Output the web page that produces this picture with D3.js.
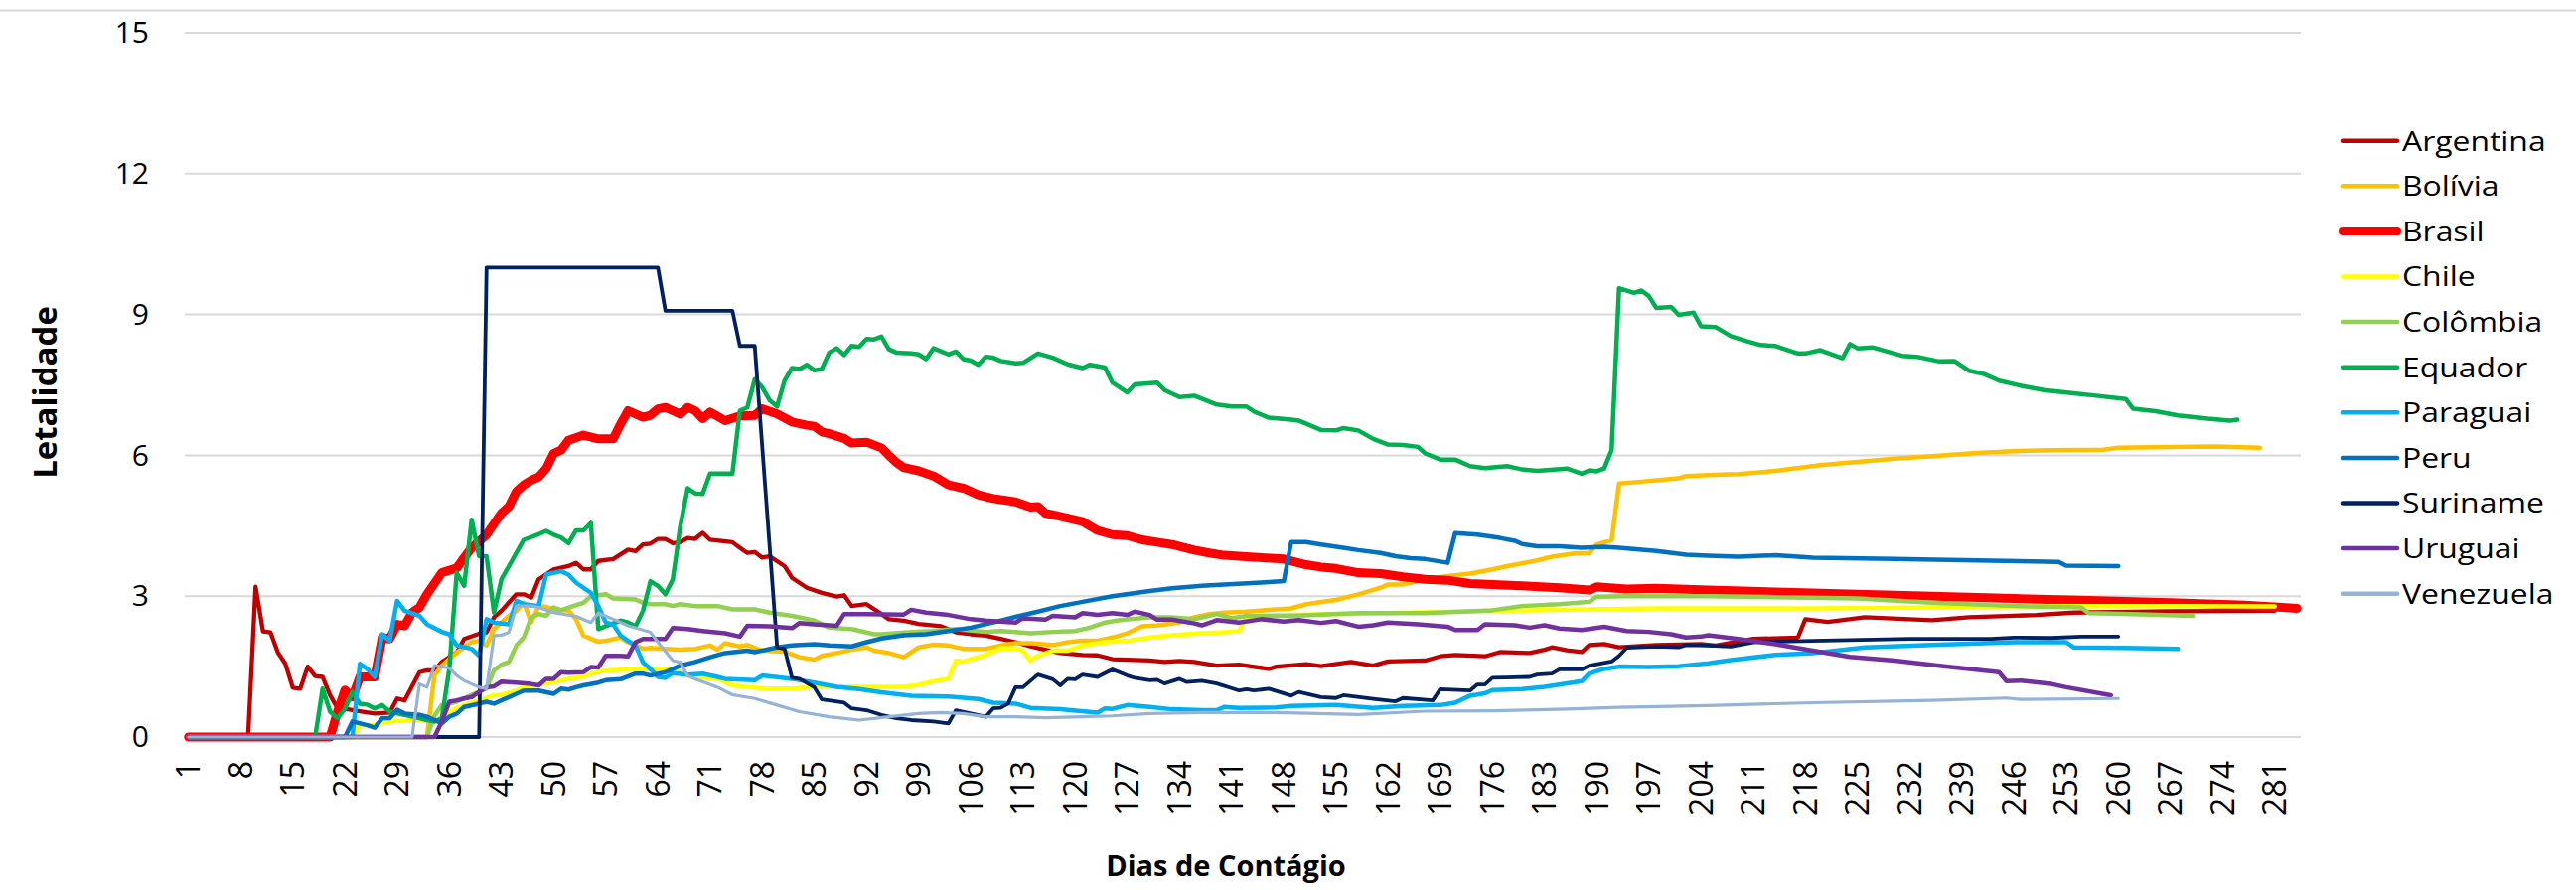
<!DOCTYPE html>
<html>
<head>
<meta charset="utf-8">
<script src="https://cdn.jsdelivr.net/npm/d3@7"></script>
<style>
  html, body { margin: 0; padding: 0; background: #fff; }
  svg { display: block; }
  text { font-family: "Open Sans", "Liberation Sans", sans-serif; fill: #000; }
</style>
</head>
<body>
<svg id="chart" width="2593" height="896"></svg>
<script>
// ---------------- DATA ----------------
const days = d3.range(1, 285); // categories: Dias de Contágio 1..284
const xTickLabels = [1,8,15,22,29,36,43,50,57,64,71,78,85,92,99,106,113,120,127,134,141,148,155,162,169,176,183,190,197,204,211,218,225,232,239,246,253,260,267,274,281];
const yTickLabels = [0,3,6,9,12,15];
const countries = ["Argentina","Bolívia","Brasil","Chile","Colômbia","Equador","Paraguai","Peru","Suriname","Uruguai","Venezuela"];

// [dia, letalidade]
const argentina = [[1,0],[9,0],[10,3.2],[11,2.25],[12,2.23],[13,1.8],[14,1.56],[15,1.05],[16,1.03],[17,1.5],[18,1.3],[19,1.28],[20,0.89],[21,0.61],[22,0.6],[24,0.55],[26,0.5],[28,0.52],[29,0.82],[30,0.78],[32,1.38],[33,1.42],[34,1.42],[35,1.6],[37,1.8],[38,2.09],[40,2.2],[41,2.23],[42,2.55],[43,2.69],[45,3.04],[46,3.04],[47,2.97],[48,3.36],[50,3.57],[52,3.64],[53,3.71],[54,3.57],[55,3.57],[56,3.75],[58,3.79],[60,3.99],[61,3.96],[62,4.1],[63,4.12],[64,4.22],[65,4.22],[66,4.13],[67,4.15],[68,4.24],[69,4.22],[70,4.35],[71,4.2],[74,4.15],[75,4.03],[76,3.92],[77,3.94],[78,3.82],[79,3.85],[81,3.64],[82,3.39],[84,3.18],[86,3.07],[88,2.99],[89,3.02],[90,2.79],[92,2.83],[94,2.62],[95,2.51],[97,2.48],[99,2.41],[102,2.36],[104,2.23],[106,2.19],[108,2.16],[110,2.09],[112,2.02],[114,1.93],[116,1.86],[118,1.79],[121,1.75],[123,1.74],[125,1.66],[130,1.63],[132,1.6],[134,1.62],[136,1.6],[139,1.52],[142,1.54],[146,1.45],[147,1.5],[151,1.55],[153,1.51],[157,1.6],[160,1.52],[162,1.61],[167,1.63],[169,1.72],[171,1.75],[175,1.72],[177,1.81],[181,1.79],[183,1.86],[184,1.91],[186,1.85],[188,1.81],[189,1.96],[191,1.98],[193,1.91],[198,1.96],[204,1.98],[206,1.95],[211,2.09],[217,2.12],[218,2.51],[221,2.45],[226,2.55],[235,2.49],[240,2.55],[249,2.6],[254,2.65],[267,2.68],[281,2.69]];
const bolivia = [[1,0],[33,0],[34,1.31],[35,1.52],[37,1.8],[39,2.02],[40,2.05],[41,1.95],[42,2.3],[44,2.58],[45,2.69],[46,2.86],[47,2.44],[48,2.79],[49,2.77],[50,2.72],[52,2.69],[53,2.51],[54,2.16],[56,2.03],[57,2.05],[59,2.12],[60,2.02],[62,1.88],[63,1.9],[65,1.88],[67,1.86],[69,1.88],[71,1.95],[72,1.86],[73,2.0],[75,1.93],[76,1.96],[78,1.84],[81,1.82],[83,1.7],[85,1.65],[86,1.73],[88,1.79],[90,1.86],[92,1.91],[93,1.84],[95,1.79],[97,1.7],[99,1.91],[101,1.97],[103,1.95],[105,1.88],[108,1.88],[110,1.95],[112,2.0],[114,2.0],[117,1.96],[119,2.02],[121,2.05],[123,2.05],[125,2.12],[127,2.21],[129,2.36],[131,2.38],[134,2.44],[136,2.55],[138,2.62],[140,2.65],[143,2.67],[147,2.72],[149,2.74],[151,2.83],[155,2.92],[158,3.04],[161,3.18],[162,3.25],[164,3.25],[167,3.36],[170,3.43],[173,3.48],[176,3.57],[178,3.64],[182,3.76],[184,3.84],[187,3.91],[189,3.92],[190,4.1],[192,4.19],[193,5.4],[196,5.44],[198,5.47],[201,5.51],[202,5.56],[205,5.58],[209,5.6],[214,5.67],[220,5.79],[225,5.86],[230,5.93],[235,5.98],[241,6.05],[246,6.09],[251,6.11],[258,6.12],[260,6.16],[267,6.18],[273,6.19],[279,6.16]];
const brasil = [[1,0],[20,0],[21,0.54],[22,1.0],[23,0.85],[24,1.28],[26,1.28],[27,2.12],[28,2.09],[29,2.4],[30,2.37],[31,2.65],[32,2.76],[33,3.04],[35,3.5],[37,3.6],[38,3.82],[39,4.03],[41,4.31],[43,4.77],[44,4.91],[45,5.23],[46,5.37],[47,5.47],[48,5.54],[49,5.72],[50,6.04],[51,6.11],[52,6.32],[54,6.43],[56,6.35],[58,6.35],[59,6.67],[60,6.95],[62,6.81],[63,6.85],[64,6.99],[65,7.02],[66,6.95],[67,6.88],[68,7.02],[69,6.95],[70,6.78],[71,6.92],[73,6.74],[75,6.84],[77,6.85],[78,6.99],[80,6.88],[82,6.71],[84,6.64],[85,6.62],[86,6.5],[87,6.46],[89,6.36],[90,6.26],[92,6.28],[94,6.16],[95,6.0],[96,5.85],[97,5.74],[99,5.67],[101,5.56],[103,5.37],[105,5.3],[107,5.16],[109,5.08],[112,5.01],[114,4.9],[115,4.91],[116,4.77],[118,4.7],[121,4.59],[123,4.4],[125,4.31],[127,4.29],[129,4.2],[131,4.15],[133,4.1],[136,3.98],[138,3.92],[140,3.87],[144,3.83],[148,3.79],[151,3.67],[153,3.62],[155,3.59],[158,3.5],[161,3.48],[164,3.41],[167,3.36],[170,3.34],[173,3.27],[176,3.25],[180,3.22],[185,3.18],[189,3.13],[190,3.2],[194,3.15],[198,3.17],[205,3.13],[214,3.09],[225,3.04],[235,3.0],[246,2.95],[256,2.91],[267,2.86],[277,2.81],[284,2.74]];
const chile = [[1,0],[23,0],[24,0.25],[26,0.26],[28,0.33],[31,0.36],[33,0.36],[35,0.33],[36,0.54],[38,0.68],[40,0.78],[42,0.89],[43,0.9],[45,0.99],[46,1.06],[48,1.11],[50,1.17],[52,1.24],[54,1.28],[55,1.35],[57,1.42],[60,1.44],[63,1.45],[66,1.45],[68,1.3],[72,1.24],[74,1.1],[77,1.05],[79,1.03],[82,1.03],[85,1.07],[90,1.07],[94,1.07],[97,1.07],[99,1.11],[101,1.19],[103,1.24],[104,1.63],[105,1.61],[108,1.75],[110,1.89],[112,1.89],[113,1.84],[114,1.63],[115,1.73],[117,1.84],[119,1.84],[121,1.95],[124,2.02],[127,2.05],[130,2.12],[133,2.17],[137,2.21],[140,2.23],[142,2.26],[143,2.55],[145,2.58],[149,2.6],[158,2.63],[171,2.67],[180,2.7],[189,2.72],[198,2.74],[219,2.74],[235,2.76],[251,2.79],[267,2.79],[281,2.78]];
const colombia = [[1,0],[33,0],[34,0.45],[35,0.68],[37,0.75],[39,0.89],[41,1.03],[42,1.42],[43,1.54],[44,1.6],[45,1.95],[46,2.12],[47,2.55],[48,2.62],[49,2.58],[50,2.76],[51,2.7],[53,2.81],[54,2.86],[55,3.0],[57,3.04],[58,2.95],[61,2.93],[62,2.86],[63,2.83],[65,2.83],[66,2.79],[67,2.83],[69,2.79],[72,2.79],[74,2.72],[77,2.72],[79,2.65],[82,2.58],[85,2.48],[87,2.33],[90,2.3],[93,2.19],[94,2.19],[98,2.24],[101,2.26],[104,2.3],[108,2.24],[110,2.26],[114,2.21],[117,2.24],[120,2.26],[122,2.33],[124,2.44],[126,2.49],[130,2.55],[133,2.55],[136,2.51],[139,2.62],[141,2.53],[143,2.58],[149,2.58],[158,2.64],[167,2.64],[176,2.7],[180,2.79],[185,2.83],[189,2.88],[190,2.99],[194,3.0],[205,3.0],[214,2.98],[225,2.95],[235,2.86],[246,2.79],[255,2.76],[256,2.64],[262,2.62],[270,2.58]];
const equador = [[1,0],[18,0],[19,1.03],[20,0.54],[21,0.4],[22,0.6],[23,0.96],[24,0.71],[25,0.69],[26,0.61],[27,0.68],[28,0.54],[30,0.47],[32,0.4],[33,0.36],[34,0.33],[35,0.4],[36,1.45],[37,3.5],[38,3.22],[39,4.63],[40,3.85],[41,3.85],[42,2.65],[43,3.36],[45,3.92],[46,4.2],[48,4.32],[49,4.39],[50,4.31],[51,4.25],[52,4.13],[53,4.4],[54,4.4],[55,4.56],[56,2.3],[57,2.36],[59,2.48],[60,2.44],[61,2.36],[62,2.69],[63,3.32],[64,3.22],[65,3.04],[66,3.36],[67,4.49],[68,5.3],[69,5.19],[70,5.18],[71,5.61],[74,5.61],[75,6.95],[76,7.02],[77,7.62],[78,7.45],[79,7.17],[80,7.04],[81,7.59],[82,7.86],[83,7.84],[84,7.93],[85,7.81],[86,7.84],[87,8.19],[88,8.28],[89,8.14],[90,8.33],[91,8.31],[92,8.48],[93,8.47],[94,8.53],[95,8.26],[96,8.19],[98,8.17],[99,8.15],[100,8.05],[101,8.28],[103,8.15],[104,8.21],[105,8.05],[106,8.02],[107,7.93],[108,8.1],[109,8.08],[110,8.01],[112,7.96],[113,7.97],[115,8.17],[117,8.08],[119,7.94],[121,7.86],[122,7.93],[124,7.87],[125,7.55],[127,7.34],[128,7.51],[131,7.55],[132,7.39],[134,7.24],[136,7.27],[139,7.08],[141,7.04],[143,7.04],[144,6.93],[146,6.8],[149,6.76],[150,6.74],[153,6.54],[155,6.53],[156,6.58],[158,6.53],[160,6.35],[162,6.23],[164,6.22],[166,6.18],[167,6.04],[169,5.91],[171,5.91],[173,5.77],[175,5.73],[178,5.77],[180,5.7],[182,5.67],[186,5.72],[188,5.61],[189,5.68],[190,5.66],[191,5.72],[192,6.11],[193,9.56],[195,9.46],[196,9.51],[197,9.39],[198,9.14],[200,9.16],[201,8.99],[203,9.04],[204,8.75],[206,8.73],[208,8.54],[210,8.44],[212,8.35],[214,8.33],[217,8.17],[218,8.17],[220,8.24],[223,8.07],[224,8.37],[225,8.28],[227,8.3],[231,8.12],[233,8.1],[236,8.0],[238,8.01],[240,7.8],[242,7.73],[244,7.59],[247,7.48],[250,7.39],[254,7.32],[257,7.27],[261,7.2],[262,6.99],[265,6.94],[268,6.85],[272,6.78],[275,6.74],[276,6.76]];
const paraguai = [[1,0],[23,0],[24,1.56],[25,1.45],[26,1.28],[27,2.19],[28,2.05],[29,2.9],[30,2.69],[32,2.58],[33,2.4],[35,2.24],[36,2.19],[37,1.95],[39,1.88],[40,1.73],[41,2.51],[42,2.44],[44,2.4],[45,2.9],[46,2.83],[48,2.79],[49,3.46],[51,3.53],[52,3.46],[53,3.29],[55,3.07],[56,2.79],[57,2.44],[58,2.4],[59,2.16],[60,2.05],[61,1.95],[62,1.59],[63,1.45],[64,1.28],[65,1.26],[66,1.36],[68,1.33],[70,1.35],[72,1.28],[73,1.24],[77,1.21],[78,1.31],[82,1.24],[85,1.16],[88,1.07],[91,1.02],[94,0.95],[98,0.88],[103,0.86],[107,0.81],[109,0.73],[112,0.71],[114,0.62],[118,0.59],[123,0.52],[124,0.61],[125,0.6],[127,0.68],[130,0.64],[133,0.59],[137,0.57],[139,0.57],[140,0.64],[142,0.62],[147,0.63],[149,0.66],[155,0.68],[160,0.62],[164,0.66],[169,0.68],[171,0.73],[173,0.88],[175,0.93],[176,1.0],[180,1.02],[183,1.07],[188,1.19],[189,1.35],[191,1.45],[193,1.5],[197,1.49],[201,1.51],[205,1.57],[208,1.64],[214,1.75],[219,1.79],[226,1.91],[235,1.96],[246,2.02],[253,2.02],[254,1.91],[261,1.9],[268,1.88]];
const peru = [[1,0],[22,0],[23,0.33],[25,0.25],[26,0.2],[27,0.4],[28,0.4],[29,0.58],[30,0.5],[32,0.47],[33,0.43],[35,0.29],[36,0.43],[37,0.5],[38,0.64],[40,0.71],[41,0.75],[42,0.71],[44,0.85],[45,0.92],[46,0.99],[48,0.99],[50,0.92],[51,1.03],[52,1.01],[53,1.06],[54,1.1],[56,1.16],[57,1.21],[59,1.23],[61,1.35],[62,1.35],[63,1.31],[65,1.38],[67,1.52],[69,1.6],[71,1.7],[73,1.79],[76,1.84],[77,1.81],[80,1.91],[82,1.95],[85,1.98],[87,1.95],[90,1.93],[92,2.02],[94,2.1],[97,2.17],[100,2.19],[103,2.26],[106,2.33],[109,2.44],[112,2.56],[115,2.67],[118,2.79],[121,2.88],[125,3.0],[130,3.11],[133,3.17],[137,3.22],[140,3.25],[145,3.29],[148,3.32],[149,4.15],[151,4.15],[153,4.1],[156,4.03],[158,3.98],[161,3.92],[163,3.85],[165,3.81],[167,3.79],[170,3.71],[171,4.34],[174,4.31],[177,4.24],[179,4.18],[180,4.11],[182,4.06],[185,4.06],[188,4.03],[191,4.05],[193,4.03],[198,3.96],[202,3.88],[205,3.86],[209,3.84],[214,3.87],[219,3.82],[230,3.79],[241,3.76],[252,3.73],[253,3.65],[260,3.64]];
const suriname = [[1,0],[40,0],[41,10],[64,10],[65,9.08],[74,9.08],[75,8.33],[77,8.33],[80,1.91],[81,1.88],[82,1.26],[83,1.24],[85,1.06],[86,0.8],[89,0.73],[90,0.61],[92,0.57],[94,0.47],[96,0.4],[98,0.36],[101,0.33],[103,0.29],[104,0.57],[106,0.5],[108,0.43],[109,0.61],[110,0.62],[111,0.71],[112,1.06],[113,1.06],[115,1.33],[117,1.23],[118,1.1],[119,1.24],[120,1.23],[121,1.33],[123,1.28],[125,1.44],[127,1.31],[128,1.26],[130,1.21],[131,1.22],[132,1.14],[134,1.24],[135,1.17],[137,1.2],[139,1.14],[142,0.99],[143,1.02],[144,0.99],[146,1.03],[149,0.88],[150,0.96],[153,0.85],[155,0.83],[156,0.89],[160,0.81],[163,0.76],[164,0.83],[168,0.78],[169,1.02],[173,0.99],[174,1.12],[175,1.12],[176,1.26],[181,1.28],[182,1.33],[184,1.35],[185,1.44],[188,1.44],[189,1.52],[192,1.61],[193,1.73],[194,1.9],[198,1.93],[201,1.91],[202,1.96],[205,1.95],[208,1.93],[211,2.02],[219,2.05],[232,2.09],[243,2.09],[246,2.12],[251,2.11],[255,2.14],[260,2.14]];
const uruguai = [[1,0],[34,0],[35,0.33],[36,0.75],[37,0.78],[38,0.82],[39,0.85],[40,0.96],[41,1.06],[42,1.08],[43,1.18],[45,1.16],[47,1.13],[48,1.1],[49,1.24],[50,1.24],[51,1.38],[52,1.37],[54,1.38],[55,1.49],[56,1.48],[57,1.73],[59,1.73],[60,1.72],[61,2.02],[62,2.09],[65,2.09],[66,2.32],[68,2.3],[70,2.26],[73,2.21],[75,2.14],[76,2.37],[79,2.36],[82,2.32],[83,2.43],[85,2.4],[88,2.37],[89,2.62],[92,2.62],[97,2.61],[98,2.71],[100,2.65],[103,2.6],[106,2.51],[108,2.48],[112,2.44],[113,2.53],[116,2.5],[117,2.58],[120,2.55],[121,2.64],[123,2.6],[125,2.64],[127,2.6],[128,2.67],[130,2.6],[131,2.5],[133,2.5],[136,2.42],[137,2.38],[139,2.49],[142,2.44],[145,2.51],[148,2.46],[150,2.49],[153,2.43],[155,2.47],[158,2.35],[160,2.38],[162,2.44],[166,2.4],[170,2.35],[171,2.28],[174,2.28],[175,2.4],[179,2.38],[181,2.33],[183,2.38],[185,2.31],[188,2.28],[191,2.35],[194,2.26],[197,2.24],[200,2.19],[202,2.12],[204,2.14],[205,2.17],[209,2.09],[214,1.98],[219,1.84],[224,1.71],[230,1.63],[236,1.52],[240,1.45],[244,1.38],[245,1.19],[247,1.2],[251,1.13],[253,1.06],[259,0.89]];
const venezuela = [[1,0],[31,0],[32,1.13],[33,1.06],[34,1.52],[36,1.47],[37,1.31],[38,1.2],[39,1.13],[40,1.06],[41,1.03],[42,2.16],[43,2.17],[44,2.23],[45,2.79],[47,2.79],[48,2.76],[50,2.65],[53,2.57],[55,2.44],[56,2.64],[58,2.51],[60,2.37],[62,2.28],[63,2.23],[64,2.02],[66,1.63],[67,1.59],[68,1.3],[69,1.24],[72,1.06],[74,0.9],[77,0.82],[80,0.68],[83,0.54],[87,0.43],[91,0.36],[95,0.43],[99,0.5],[102,0.52],[105,0.5],[108,0.43],[112,0.43],[116,0.41],[121,0.43],[125,0.45],[130,0.5],[137,0.52],[147,0.52],[158,0.48],[167,0.55],[176,0.56],[185,0.59],[193,0.63],[205,0.67],[219,0.73],[235,0.78],[245,0.83],[247,0.8],[260,0.82]];

const seriesValues = [argentina, bolivia, brasil, chile, colombia, equador, paraguai, peru, suriname, uruguai, venezuela];

// ---------------- STYLE ----------------
const colors = ["#C00000","#FFC000","#FF0000","#FFFF00","#92D050","#00B050","#00B0F0","#0070C0","#002060","#7030A0","#95B3D7"];
const widths = [4.3,4.5,9,4.5,4.5,4.5,4.5,4.5,3.8,4.5,3.2];

const W = 2593, H = 896;
const margin = {left: 186, right: W - 2316, top: 33, bottom: H - 742};
const svg = d3.select("#chart");

// top frame line
svg.append("line").attr("x1", 0).attr("x2", W).attr("y1", 10.5).attr("y2", 10.5)
  .attr("stroke", "#D9D9D9").attr("stroke-width", 2);

const x = d3.scaleBand().domain(days).range([margin.left, W - margin.right]).padding(0);
const y = d3.scaleLinear().domain([0, 15]).range([H - margin.bottom, margin.top]);
const bw = x.bandwidth();

// gridlines
svg.append("g").selectAll("line").data(yTickLabels).join("line")
  .attr("x1", margin.left).attr("x2", W - margin.right)
  .attr("y1", d => y(d)).attr("y2", d => y(d))
  .attr("stroke", "#D9D9D9").attr("stroke-width", 2);

// y axis
const yAxis = svg.append("g").attr("transform", `translate(${margin.left},0)`)
  .call(d3.axisLeft(y).tickValues(yTickLabels).tickSize(0).tickPadding(36).tickFormat(d3.format("d")));
yAxis.select(".domain").remove();
yAxis.selectAll("text").style("font-family", '"Open Sans", sans-serif').style("font-size", "30px").attr("fill", "#000");

// x axis
const xAxis = svg.append("g").attr("transform", `translate(0,${H - margin.bottom})`)
  .call(d3.axisBottom(x).tickValues(xTickLabels).tickSize(0));
xAxis.select(".domain").remove();
xAxis.selectAll("text")
  .style("font-family", '"Open Sans", sans-serif').style("font-size", "32px").attr("fill", "#000")
  .attr("text-anchor", "end")
  .attr("transform", "rotate(-90)")
  .attr("x", -24).attr("y", 0).attr("dy", "0.36em");

// lines
const line = d3.line().x(d => x(d[0]) + bw / 2).y(d => y(d[1]));
svg.append("g").selectAll("path").data(seriesValues).join("path")
  .attr("d", line)
  .attr("fill", "none")
  .attr("stroke", (d, i) => colors[i])
  .attr("stroke-width", (d, i) => widths[i])
  .attr("stroke-linejoin", "round")
  .attr("stroke-linecap", "round");

// axis titles
svg.append("text").attr("transform", "translate(45,395) rotate(-90)")
  .attr("text-anchor", "middle").attr("dy", "0.36em")
  .style("font-weight", "bold").style("font-size", "33px").text("Letalidade");
svg.append("text").attr("x", 1234).attr("y", 882)
  .attr("text-anchor", "middle")
  .style("font-weight", "bold").style("font-size", "29px").text("Dias de Contágio");

// legend
const leg = svg.append("g");
const legItems = leg.selectAll("g").data(countries).join("g")
  .attr("transform", (d, i) => `translate(0,${141.7 + i * 45.6})`);
legItems.append("line").attr("x1", 2358).attr("x2", 2413).attr("y1", 0).attr("y2", 0)
  .attr("stroke", (d, i) => colors[i])
  .attr("stroke-width", (d, i) => i === 2 ? 8 : 4.5)
  .attr("stroke-linecap", "round");
legItems.append("text")
  .attr("transform", "translate(2418,9.8) scale(1.16,1)")
  .style("font-size", "27.5px").text(d => d);
</script>
</body>
</html>
